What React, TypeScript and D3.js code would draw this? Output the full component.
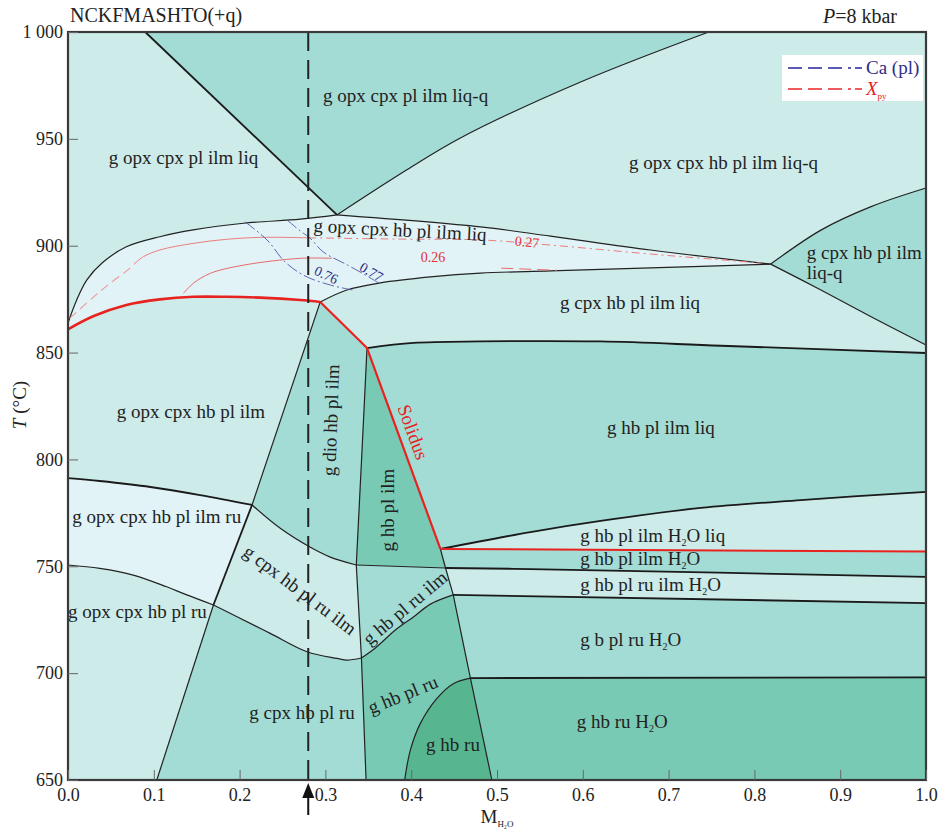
import { useEffect, useRef } from "react";
import * as d3 from "d3";

// field boundaries, [M_H2O, T (°C)]
const vLeft = [[0.09, 1000], [0.3135, 914.4]];
const vRight = [[0.3135, 914.4], [0.395, 935.5], [0.4573, 950.4], [0.5974, 976.6], [0.7468, 1000]];
const lensTopL = [[0, 863.8], [0.01, 874.5], [0.022, 884.0], [0.04, 892.0], [0.068, 899.5], [0.107, 904.2], [0.146, 907.4], [0.2045, 910.5], [0.2707, 912.4], [0.3135, 914.4]];
const lensTopR = [[0.3135, 914.4], [0.4807, 908.8], [0.5624, 904.5], [0.679, 898.0], [0.819, 891.4]];
const lensBotR = [[0.294, 873.7], [0.325, 879.3], [0.364, 882.6], [0.4224, 885.4], [0.4807, 887.2], [0.5624, 888.2], [0.679, 889.6], [0.819, 891.4]];
const juncUp = [[0.819, 891.4], [0.8775, 907.3], [0.936, 918.3], [1, 927.0]];
const juncDown = [[0.819, 891.4], [0.8775, 879.3], [0.936, 866.8], [1, 853.5]];
const solidusL = [[0, 860.9], [0.03, 867.1], [0.068, 872.3], [0.107, 874.9], [0.146, 876.1], [0.185, 876.1], [0.224, 875.7], [0.2707, 874.6], [0.294, 873.7]];
const solidusA = [[0.294, 873.7], [0.3485, 852.1]];
const solidusB = [[0.3485, 852.1], [0.434, 758.1]];
const redH2O = [[0.434, 758.1], [1, 756.9]];
const line850 = [[0.3485, 852.1], [0.4026, 854.5], [0.4807, 855.2], [0.6208, 855.2], [0.761, 853.2], [1, 849.8]];
const liqTop = [[0.434, 758.1], [0.539, 766.0], [0.6208, 771.2], [0.7375, 777.3], [0.854, 781.0], [1, 784.8]];
const steepLA = [[0.294, 873.7], [0.2145, 778.7]];
const steepLB = [[0.2145, 778.7], [0.1695, 731.9]];
const steepLC = [[0.1695, 731.9], [0.1035, 650]];
const l790L = [[0, 791.3], [0.037, 789.9], [0.096, 787.1], [0.154, 783.3], [0.2145, 778.7]];
const l790R = [[0.2145, 778.7], [0.247, 767.9], [0.282, 759.0], [0.3057, 754.3], [0.336, 750.6]];
const ilmA = [[0.336, 750.6], [0.44, 749.2]];
const ilmB = [[0.44, 749.2], [0.539, 748.7], [1, 745.0]];
const vertA = [[0.3485, 852.1], [0.3427, 804.4], [0.336, 750.6]];
const vertB = [[0.336, 750.6], [0.342, 707.1]];
const vertC = [[0.342, 707.1], [0.3474, 650]];
const l750L = [[0, 750.6], [0.037, 749.0], [0.076, 745.9], [0.115, 740.4], [0.1385, 736.6], [0.1695, 731.9]];
const l750R = [[0.1695, 731.9], [0.197, 726.4], [0.2357, 718.6], [0.2785, 710.0], [0.3135, 706.9], [0.325, 706.1], [0.342, 707.1]];
const ruCurve = [[0.342, 707.1], [0.3582, 711.8], [0.3816, 720.2], [0.4026, 726.3], [0.4224, 732.3], [0.449, 736.6]];
const steepRA = [[0.434, 758.1], [0.44, 749.2]];
const steepRB = [[0.44, 749.2], [0.449, 736.6]];
const steepRC = [[0.449, 736.6], [0.4574, 720.2], [0.469, 697.7]];
const steepRD = [[0.469, 697.7], [0.494, 650]];
const line603 = [[0.449, 736.6], [1, 732.8]];
const line678 = [[0.469, 697.7], [1, 698.0]];
const dome = [[0.469, 697.7], [0.4496, 695.2], [0.43, 688.2], [0.4107, 676.5], [0.399, 664.0], [0.3924, 650]];

// isopleths
const xpy27Dash = [[0.002, 866], [0.03, 876.1], [0.049, 882.4], [0.072, 889.4], [0.08, 892.5]];
const xpy27 = [[0.08, 892.5], [0.088, 894.9], [0.107, 898.0], [0.146, 901.1], [0.185, 903.0], [0.224, 903.9], [0.28, 903.7]];
const xpy27DashDot = [[0.28, 903.7], [0.387, 903.1], [0.4807, 902.7], [0.5624, 900.3], [0.679, 896.1], [0.8075, 891.9]];
const xpy26 = [[0.1345, 877.7], [0.146, 882.4], [0.166, 887.1], [0.2045, 890.9], [0.2707, 894.1], [0.3077, 894.1]];
const xpy26Dash = [[0.505, 889.5], [0.57, 888.5]];
const ca76 = [[0.2065, 911.1], [0.232, 902.7], [0.253, 892.4], [0.2765, 885.8], [0.3057, 881.6], [0.3314, 879.3]];
const ca77 = [[0.2555, 912.0], [0.2707, 906.9], [0.282, 903.6], [0.2975, 897.1], [0.3256, 891.0], [0.3466, 886.3], [0.364, 882.1]];

const sampleX = 0.28;
const xTicks = [0, 0.1, 0.2, 0.3, 0.4, 0.5, 0.6, 0.7, 0.8, 0.9, 1.0];
const yTicks = [650, 700, 750, 800, 850, 900, 950, 1000];

const fieldNames = [
  "g opx cpx pl ilm liq", "g opx cpx pl ilm liq-q", "g opx cpx hb pl ilm liq-q",
  "g opx cpx hb pl ilm liq", "g cpx hb pl ilm", "liq-q", "g cpx hb pl ilm liq",
  "g opx cpx hb pl ilm", "g dio hb pl ilm", "g hb pl ilm", "g hb pl ilm liq",
  "g hb pl ilm H2O liq", "g hb pl ilm H2O", "g hb pl ru ilm H2O", "g b pl ru H2O",
  "g hb ru H2O", "g opx cpx hb pl ilm ru", "g opx cpx hb pl ru", "g cpx hb pl ru ilm",
  "g hb pl ru ilm", "g cpx hb pl ru", "g hb pl ru", "g hb ru",
];
// placement of each name: [M_H2O, T, anchor, rotation]
const fieldPlace: [number, number, string, number][] = [
  [0.1346, 941, "middle", 0], [0.3934, 970.1, "middle", 0], [0.764, 938.7, "middle", 0],
  [0.387, 907.3, "middle", 3], [0.861, 896.6, "start", 0], [0.861, 887.2, "start", 0],
  [0.655, 873.2, "middle", 0], [0.1433, 822.5, "middle", 0], [0.3065, 818.4, "middle", -88],
  [0.373, 776.3, "middle", -90], [0.691, 814.7, "middle", 0],
  [0.597, 764.2, "start", 0], [0.597, 753.4, "start", 0], [0.597, 741.2, "start", 0],
  [0.597, 715.5, "start", 0], [0.593, 677.3, "start", 0], [0.005, 773.0, "start", 0],
  [0.0, 728.6, "start", 0], [0.2704, 738.9, "middle", 37], [0.393, 730.5, "middle", -40],
  [0.2727, 681.3, "middle", 0], [0.3904, 689.9, "middle", -22], [0.4487, 666.3, "middle", 0],
];
const isoNames = ["0.27", "0.26", "0.76", "0.77"];
const isoPlace: [number, number, number][] = [[0.535, 901.7, 5], [0.4254, 894.7, 0], [0.301, 886.3, 25], [0.3535, 887.7, 30]];

const x = d3.scaleLinear().domain([0, 1]).range([68, 926]);
const y = d3.scaleLinear().domain([650, 1000]).range([780, 32]);

const LIGHT = "#cdebe9", PALE = "#e1f3f6", MED = "#a3dcd5", DARK = "#79cab4", DEEP = "#57b690";
const FONT = "'Liberation Serif', 'Times New Roman', serif";

const lineGen = d3.line<number[]>().x(d => x(d[0])).y(d => y(d[1])).curve(d3.curveCatmullRom.alpha(0.5));
const seg = (pts: number[][], rev = false) => lineGen(rev ? [...pts].reverse() : pts) as string;
const ring = (...parts: string[]) => parts.map((p, i) => (i ? p.replace(/^M/, "L") : p)).join("") + "Z";

const regions: [string, string][] = [
  [MED, ring(seg(vLeft), seg(vRight), seg([[0.7468, 1000], [0.09, 1000]]))],
  [MED, ring(seg(juncUp), seg([[1, 927], [1, 853.5]]), seg(juncDown, true))],
  [PALE, ring(seg(lensTopL), seg(lensTopR), seg(lensBotR, true), seg(solidusL, true))],
  [MED, ring(seg(solidusA), seg(vertA), seg(l790R, true), seg(steepLA, true))],
  [DARK, ring(seg(solidusB), seg(steepRA), seg(ilmA, true), seg(vertA, true))],
  [MED, ring(seg(line850), seg([[1, 849.8], [1, 784.8]]), seg(liqTop, true), seg(solidusB, true))],
  [MED, ring(seg(redH2O), seg([[1, 756.9], [1, 745]]), seg(ilmB, true), seg(steepRA, true))],
  [MED, ring(seg(line603), seg([[1, 732.8], [1, 698]]), seg(line678, true), seg(steepRC, true))],
  [DARK, ring(seg(line678), seg([[1, 698], [1, 650]]), seg([[1, 650], [0.494, 650]]), seg(steepRD, true))],
  [DEEP, ring(seg(dome), seg([[0.3924, 650], [0.494, 650]]), seg(steepRD, true))],
  [DARK, ring(seg(ruCurve), seg(steepRC), seg(dome), seg([[0.3924, 650], [0.3474, 650]]), seg(vertC, true))],
  [MED, ring(seg(ilmA), seg(steepRB), seg(ruCurve, true), seg(vertB, true))],
  [PALE, ring(seg(l790L), seg(steepLB), seg(l750L, true), seg([[0, 750.6], [0, 791.3]]))],
  [MED, ring(seg(steepLC, true), seg(l750R), seg(vertC), seg([[0.3474, 650], [0.1035, 650]]))],
];

const thinEdges = [vRight, lensTopL, lensTopR, lensBotR, juncUp, juncDown, steepLA, steepLC, l790R, ilmA, vertA, vertB, vertC, l750L, l750R, ruCurve, steepRA, steepRB, steepRC, steepRD, dome];
const thickEdges = [vLeft, line850, liqTop, ilmB, line603, line678, l790L, steepLB];

function Chem({ t }: { t: string }) {
  const parts = t.split("H2O");
  if (parts.length === 1) return <>{t}</>;
  return (
    <>
      {parts[0]}H<tspan fontSize="10" dy="4">2</tspan><tspan dy="-4">O</tspan>{parts[1]}
    </>
  );
}

function Axes() {
  const gx = useRef<SVGGElement>(null);
  const gy = useRef<SVGGElement>(null);
  useEffect(() => {
    const ax = d3.axisBottom(x).tickValues(xTicks).tickSizeInner(-10).tickSizeOuter(0).tickPadding(8).tickFormat(d3.format(".1f") as any);
    const ay = d3.axisLeft(y).tickValues(yTicks).tickSizeInner(-10).tickSizeOuter(0).tickPadding(5)
      .tickFormat((d: any) => (d === 1000 ? "1 000" : String(d)));
    for (const [ref, axis] of [[gx, ax], [gy, ay]] as any[]) {
      const g = d3.select(ref.current).call(axis);
      g.attr("font-family", FONT);
      g.select(".domain").remove();
      g.selectAll(".tick line").attr("stroke", "#666").attr("stroke-width", 1);
      g.selectAll(".tick text").attr("font-family", FONT).attr("font-size", 18).attr("fill", "#222");
    }
  }, []);
  return (
    <>
      <g ref={gx} transform={`translate(0,${y(650)})`} />
      <g ref={gy} transform={`translate(${x(0)},0)`} />
    </>
  );
}

export default function App() {
  const sx = x(sampleX);
  return (
    <svg width={941} height={834} style={{ position: "absolute", left: 0, top: 0, background: "#fff" }} fontFamily={FONT}>
      <rect x={x(0)} y={y(1000)} width={x(1) - x(0)} height={y(650) - y(1000)} fill={LIGHT} />
      {regions.map(([c, d], i) => <path key={i} d={d} fill={c} stroke="none" />)}

      {thinEdges.map((e, i) => <path key={"t" + i} d={seg(e)} fill="none" stroke="#222" strokeWidth={1.2} />)}
      {thickEdges.map((e, i) => <path key={"k" + i} d={seg(e)} fill="none" stroke="#1a1a1a" strokeWidth={1.8} />)}

      {/* isopleths */}
      <path d={seg(xpy27Dash)} fill="none" stroke="#ee9a9a" strokeWidth={1.1} strokeDasharray="9,5" />
      <path d={seg(xpy27)} fill="none" stroke="#ec7d7d" strokeWidth={1} />
      <path d={seg(xpy27DashDot)} fill="none" stroke="#ec7d7d" strokeWidth={1} strokeDasharray="8,4,2,4" />
      <path d={seg(xpy26)} fill="none" stroke="#e86a6a" strokeWidth={1} />
      <path d={seg(xpy26Dash)} fill="none" stroke="#e86a6a" strokeWidth={1} strokeDasharray="12,6" />
      <path d={seg(ca76)} fill="none" stroke="#5555aa" strokeWidth={0.9} strokeDasharray="12,3,2,3" />
      <path d={seg(ca77)} fill="none" stroke="#5555aa" strokeWidth={0.9} strokeDasharray="12,3,2,3" />

      {/* solidus */}
      <path d={seg(solidusL)} fill="none" stroke="#e8231f" strokeWidth={2.6} />
      <path d={seg(solidusA) + seg(solidusB).replace(/^M/, "L")} fill="none" stroke="#e8231f" strokeWidth={2.2} strokeLinejoin="round" />
      <path d={seg(redH2O)} fill="none" stroke="#e8231f" strokeWidth={2} />

      {/* sample composition */}
      <line x1={sx} x2={sx} y1={y(1000)} y2={y(650)} stroke="#222" strokeWidth={2} strokeDasharray="19,9" />
      <path d={`M${sx},${y(650) + 3}L${sx - 6},${y(650) + 18}L${sx + 6},${y(650) + 18}Z`} fill="#111" />
      <line x1={sx} x2={sx} y1={y(650) + 16} y2={y(650) + 35} stroke="#111" strokeWidth={2} />

      {/* labels */}
      {fieldNames.map((t, i) => {
        const [mx, tt, anchor, rot] = fieldPlace[i];
        return (
          <text key={t + i} transform={`translate(${x(mx)},${y(tt)}) rotate(${rot})`} textAnchor={anchor as any}
            dy="0.33em" fontSize={19} fill="#222">
            <Chem t={t} />
          </text>
        );
      })}
      <text transform={`translate(${x(0.402)},${y(812.8)}) rotate(70)`} textAnchor="middle" dy="0.33em" fontSize={19} fill="#e8231f">Solidus</text>
      {isoNames.map((t, i) => {
        const [mx, tt, rot] = isoPlace[i];
        return (
          <text key={t} transform={`translate(${x(mx)},${y(tt)}) rotate(${rot})`} textAnchor="middle" dy="0.33em"
            fontSize={14} fill={i < 2 ? "#e53030" : "#2e2e88"}>{t}</text>
        );
      })}

      {/* frame and axes */}
      <rect x={x(0)} y={y(1000)} width={x(1) - x(0)} height={y(650) - y(1000)} fill="none" stroke="#3a3a3a" strokeWidth={2.2} />
      <Axes />
      <text x={70} y={22} fontSize={20} fill="#222">NCKFMASHTO(+q)</text>
      <text x={897} y={23} fontSize={20} fill="#222" textAnchor="end"><tspan fontStyle="italic">P</tspan>=8 kbar</text>
      <text transform={`translate(26,405) rotate(-90)`} textAnchor="middle" fontSize={19} fill="#222">
        <tspan fontStyle="italic">T</tspan> (°C)
      </text>
      <text x={x(0.5)} y={823} textAnchor="middle" fontSize={19} fill="#222">
        M<tspan fontSize="9" dy="4">H₂O</tspan>
      </text>

      {/* legend */}
      <rect x={782} y={55} width={141} height={46} fill="#fff" />
      <line x1={788} x2={862} y1={68} y2={68} stroke="#5a5ab0" strokeWidth={2} strokeDasharray="14,6,14,6,14,6,3,4" />
      <text x={866} y={74} fontSize={19} fill="#2e2e88">Ca (pl)</text>
      <line x1={788} x2={862} y1={89} y2={89} stroke="#ef5a5a" strokeWidth={2} strokeDasharray="14,6,14,6,14,6,3,4" />
      <text x={866} y={95} fontSize={19} fill="#e8231f"><tspan fontStyle="italic">X</tspan><tspan fontSize="9" dy="4">py</tspan></text>
    </svg>
  );
}
